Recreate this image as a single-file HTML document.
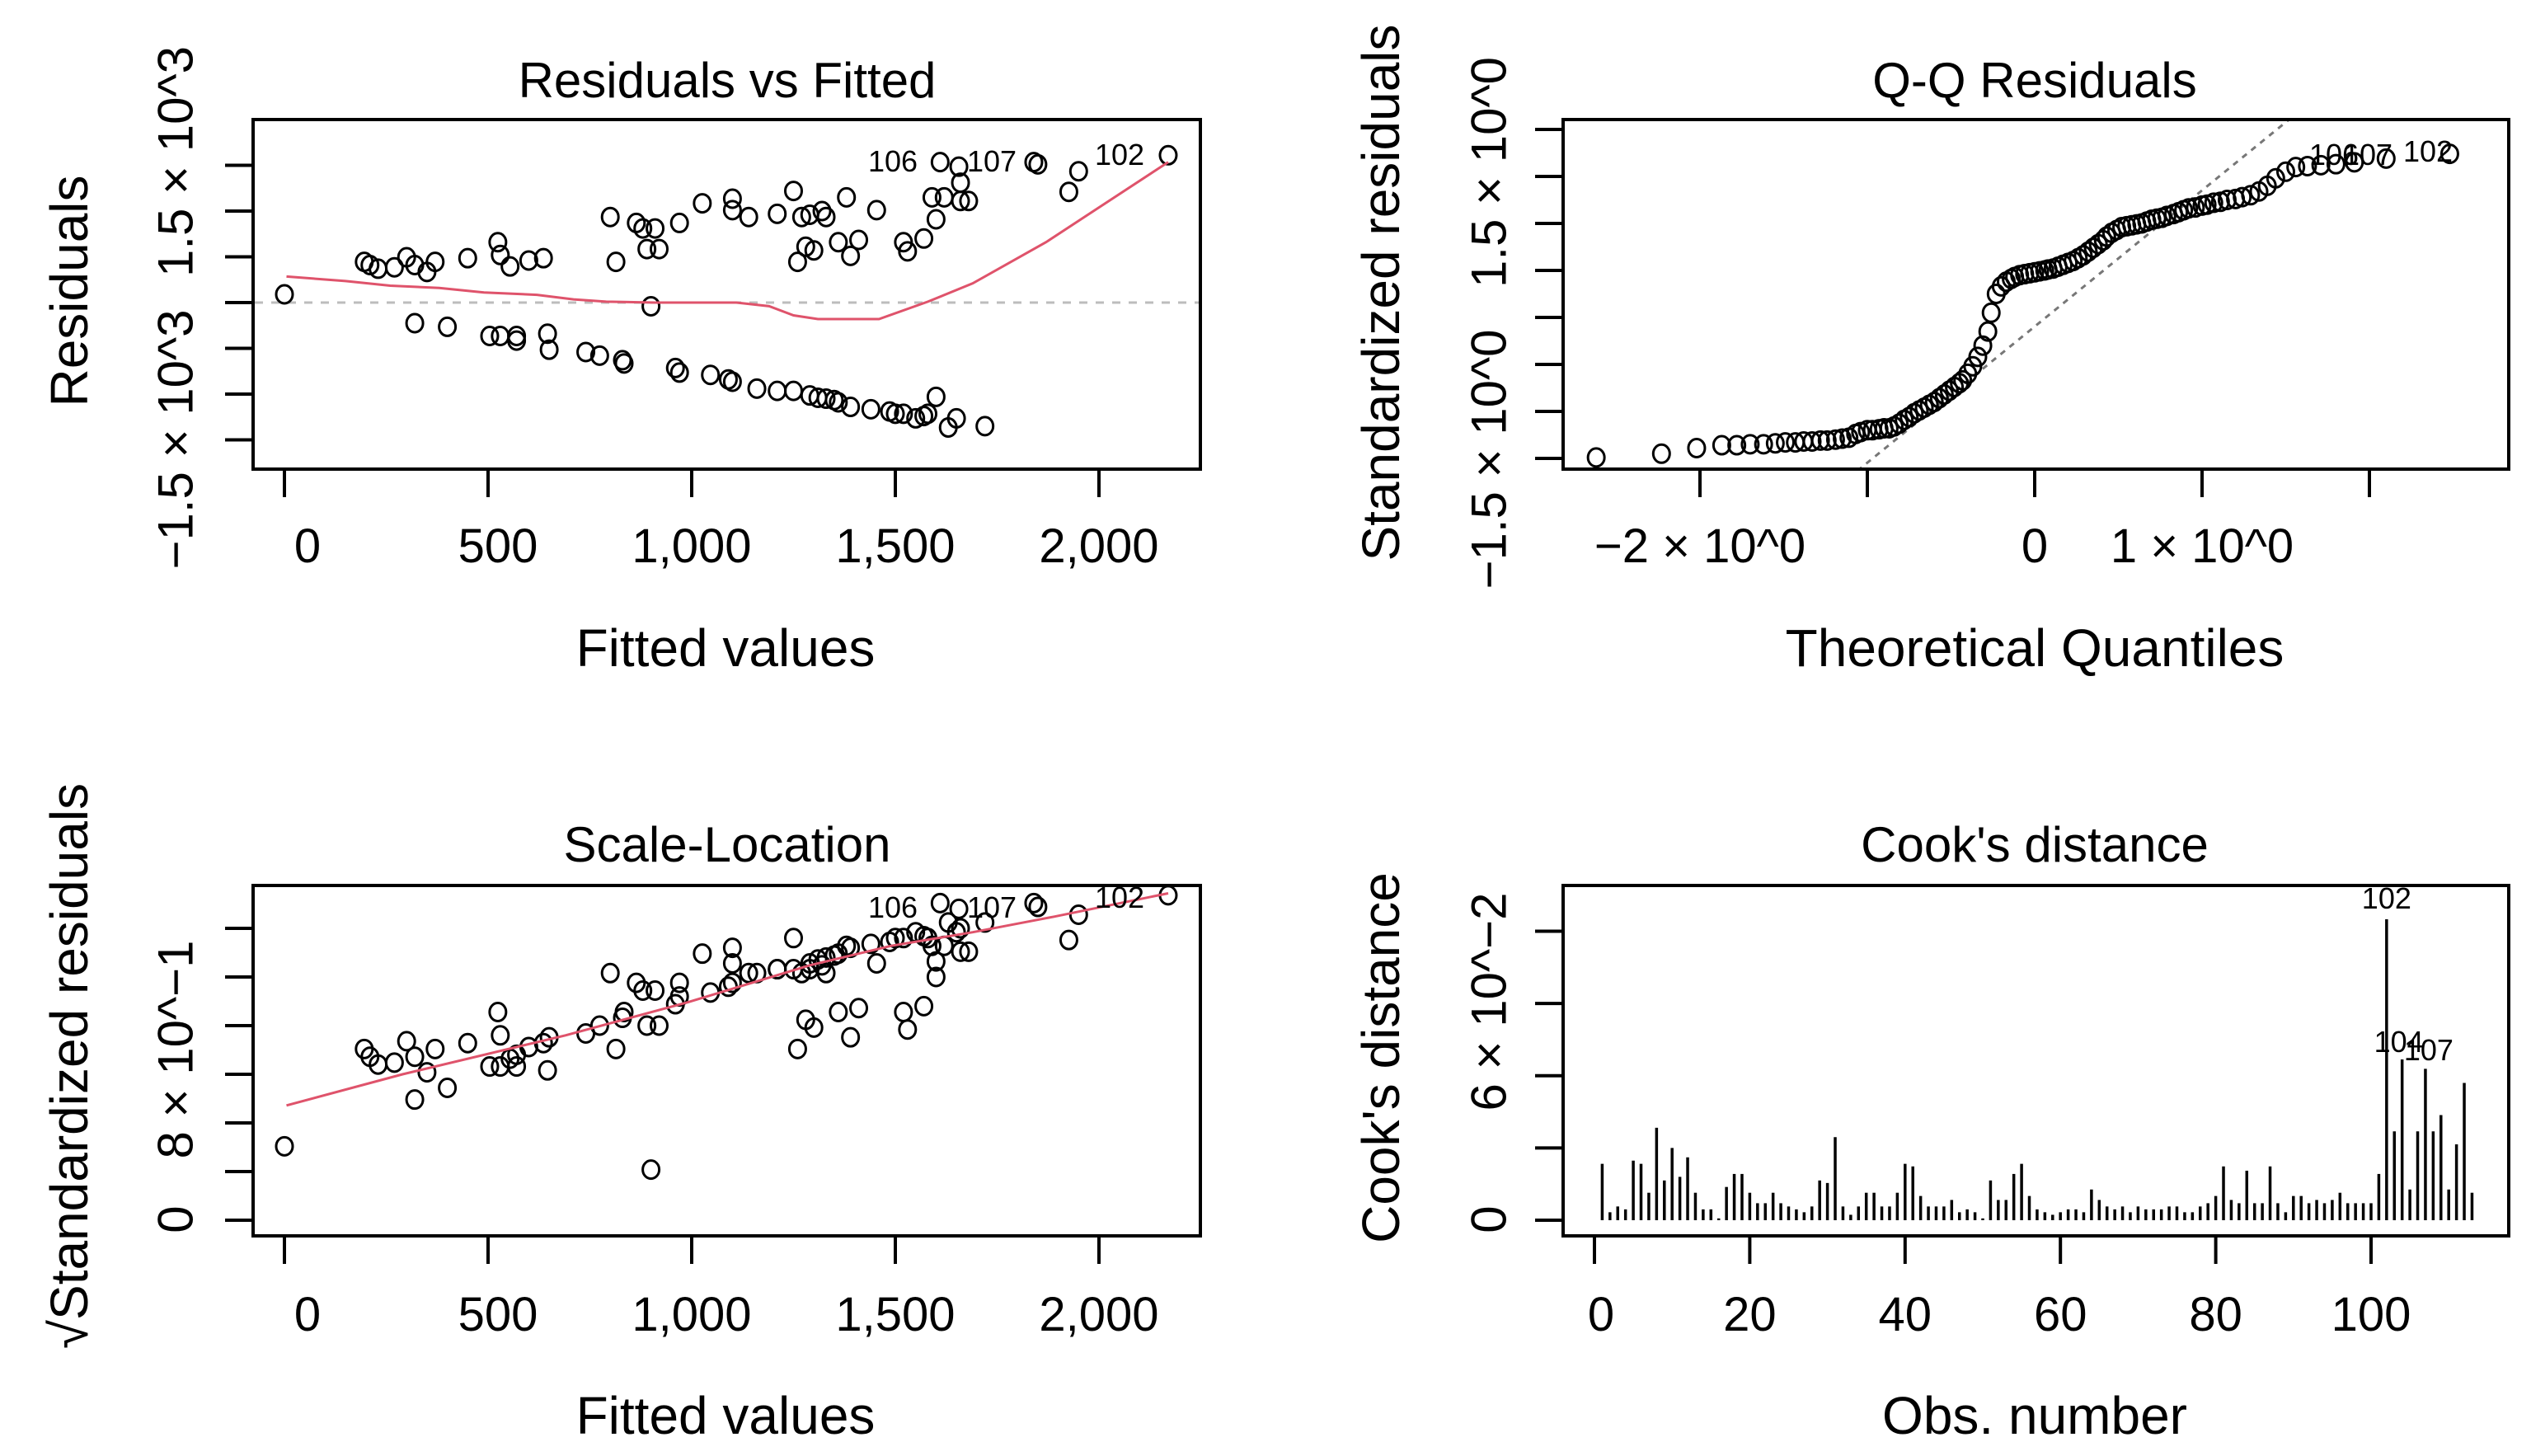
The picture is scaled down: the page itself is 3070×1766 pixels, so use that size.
<!DOCTYPE html>
<html><head><meta charset="utf-8"><style>
html,body{margin:0;padding:0;background:#fff;}
svg{display:block;font-family:"Liberation Sans",Arial,sans-serif;}
</style></head><body>
<svg id="fig" width="3070" height="1766" viewBox="0 0 3070 1766" xmlns="http://www.w3.org/2000/svg"></svg>
<script>
// ---------- Residuals vs Fitted ----------
const rvfFitted = [0,196,210,230,270,300,320,350,370,450,524,530,554,600,636,800,814,864,880,890,910,920,970,1026,1100,1100,1140,1210,1250,1260,1270,1280,1290,1300,1320,1330,1360,1380,1390,1410,1454,1520,1530,1570,1590,1600,1620,1660,1660,1680,1610,1656,1840,1850,1926,1950,2170,
 320,400,504,530,570,570,646,650,740,774,830,834,900,960,970,1046,1090,1100,1160,1210,1250,1290,1310,1330,1350,1360,1390,1440,1486,1500,1520,1550,1570,1580,1600,1630,1650,1720];
const rvfResid = [90,445,410,370,385,495,410,335,445,485,660,520,395,460,485,935,445,870,810,585,810,585,870,1085,1135,1010,935,970,1220,445,935,610,960,570,1000,935,660,1150,510,685,1010,660,560,700,1150,910,1150,1310,1110,1110,1535,1485,1535,1510,1210,1435,1610,
 -225,-265,-365,-365,-415,-365,-340,-515,-540,-580,-630,-665,-40,-715,-765,-790,-840,-865,-940,-965,-965,-1015,-1040,-1050,-1065,-1090,-1140,-1165,-1190,-1215,-1215,-1265,-1240,-1215,-1030,-1365,-1265,-1350];
const rvfSmoothX = [5,150,260,380,490,620,710,790,910,1110,1190,1250,1310,1460,1580,1690,1870,2170];
const rvfSmoothY = [285,235,185,160,110,85,35,10,0,0,-40,-140,-180,-180,10,210,660,1535];
const fittedTicks = [0,500,1000,1500,2000];
const fittedTickLabels = ["0","500","1,000","1,500","2,000"];
const residTicks = [-1500,-1000,-500,0,500,1000,1500];

// ---------- Scale-Location ----------
const slSqrtStd = [0.38,0.88,0.84,0.80,0.81,0.92,0.84,0.76,0.88,0.91,1.07,0.95,0.83,0.89,0.91,1.27,0.88,1.22,1.18,1.00,1.18,1.00,1.22,1.37,1.40,1.32,1.27,1.29,1.45,0.88,1.27,1.03,1.29,0.99,1.31,1.27,1.07,1.41,0.94,1.09,1.32,1.07,0.98,1.10,1.41,1.25,1.41,1.50,1.38,1.38,1.63,1.60,1.63,1.61,1.44,1.57,1.67,
 0.62,0.68,0.79,0.79,0.85,0.79,0.77,0.94,0.96,1.00,1.04,1.07,0.26,1.11,1.15,1.17,1.20,1.22,1.27,1.29,1.29,1.32,1.34,1.35,1.36,1.37,1.40,1.42,1.43,1.45,1.45,1.48,1.46,1.45,1.33,1.53,1.48,1.53];
const slSmoothX = [5,290,690,990,1290,1490,1690,1890,2170];
const slSmoothY = [0.59,0.75,0.95,1.12,1.31,1.41,1.48,1.56,1.68];
const slTicks = [0,0.25,0.5,0.75,1,1.25,1.5];

// ---------- Q-Q ----------
const qqTheo = [-2.62,-2.23,-2.02,-1.87,-1.78,-1.70,-1.62,-1.55,-1.49,-1.43,-1.38,-1.33,-1.28,-1.24,-1.19,-1.15,-1.11,-1.07,-1.04,-1.00,-0.97,-0.93,-0.90,-0.87,-0.84,-0.81,-0.78,-0.75,-0.72,-0.69,-0.66,-0.63,-0.60,-0.57,-0.54,-0.51,-0.48,-0.45,-0.43,-0.40,-0.37,-0.34,-0.31,-0.28,-0.26,-0.23,-0.20,-0.17,-0.14,-0.12,-0.09,-0.06,-0.03,0.00,0.03,0.06,0.08,0.11,0.14,0.17,0.20,0.23,0.26,0.29,0.32,0.35,0.38,0.41,0.43,0.46,0.49,0.52,0.55,0.58,0.61,0.64,0.67,0.70,0.73,0.76,0.79,0.83,0.86,0.89,0.92,0.96,1.00,1.03,1.07,1.11,1.15,1.20,1.24,1.29,1.34,1.39,1.44,1.50,1.56,1.63,1.71,1.80,1.91,2.10,2.48];
const qqStd = [-1.49,-1.45,-1.39,-1.36,-1.36,-1.35,-1.35,-1.34,-1.33,-1.33,-1.32,-1.32,-1.31,-1.31,-1.30,-1.29,-1.28,-1.24,-1.22,-1.20,-1.20,-1.19,-1.18,-1.18,-1.16,-1.13,-1.09,-1.06,-1.02,-0.99,-0.96,-0.93,-0.90,-0.86,-0.82,-0.78,-0.74,-0.70,-0.67,-0.60,-0.52,-0.42,-0.30,-0.15,0.05,0.25,0.33,0.38,0.41,0.43,0.45,0.46,0.47,0.48,0.49,0.50,0.51,0.52,0.54,0.56,0.58,0.60,0.63,0.66,0.70,0.74,0.78,0.82,0.86,0.90,0.93,0.96,0.97,0.98,0.99,1.00,1.02,1.04,1.05,1.06,1.08,1.10,1.12,1.14,1.16,1.17,1.19,1.20,1.22,1.23,1.25,1.26,1.28,1.30,1.34,1.40,1.48,1.55,1.60,1.61,1.62,1.63,1.65,1.69,1.74];
const qqLineQ = [-1.01,1.53];
const qqLineR = [-1.56,2.12];
const qqXTicks = [-2,-1,0,1,2];
const qqYTicks = [-1.5,-1,-0.5,0,0.5,1,1.5,2];

// ---------- Cook's distance ----------
const cooksD = [0.0156,0.0022,0.0038,0.003,0.0165,0.0156,0.0076,0.0256,0.011,0.020,0.012,0.0174,0.0076,0.003,0.003,0.0005,0.0092,0.0128,0.0128,0.0076,
 0.0047,0.0047,0.0076,0.0047,0.0038,0.003,0.0022,0.0038,0.011,0.0103,0.023,0.0038,0.0015,0.0038,0.0076,0.0076,0.0038,0.0038,0.0076,0.0156,
 0.0149,0.0067,0.0038,0.0038,0.0038,0.0056,0.0022,0.003,0.0022,0.0005,0.011,0.0056,0.0056,0.0128,0.0156,0.0067,0.003,0.0022,0.0015,0.0022,
 0.003,0.003,0.0022,0.0085,0.0056,0.0038,0.003,0.0038,0.0022,0.0038,0.003,0.003,0.003,0.0038,0.0038,0.0022,0.0022,0.0038,0.0047,0.0067,
 0.0149,0.0056,0.0047,0.0137,0.0047,0.0047,0.0149,0.0047,0.0022,0.0067,0.0067,0.0047,0.0056,0.0047,0.0056,0.0076,0.0047,0.0047,0.0047,0.0047,
 0.0128,0.0833,0.0246,0.0445,0.0085,0.0246,0.0419,0.0246,0.0291,0.0085,0.021,0.038,0.0076];
const cookXTicks = [0,20,40,60,80,100];
const cookYTicks = [0,0.02,0.04,0.06,0.08];

// ---------- axis functions ----------
const xF = v => 345 + 0.494*v;
const yR = v => 367 - 0.111*v;
const yS = v => 1480 - 236*v;
const xQ = q => 2468 + 203*q;
const yQ = r => 385 - 114*r;
const xC = i => 1934 + 9.42*i;
const yC = v => 1480 - 4382*v;

const NS = "http://www.w3.org/2000/svg";
const svg = document.getElementById('fig');
function mk(tag, attrs, parent){
  const e = document.createElementNS(NS, tag);
  for (const k in attrs) e.setAttribute(k, attrs[k]);
  (parent||svg).appendChild(e);
  return e;
}
function txt(s, x, y, size, name, opts){
  opts = opts||{};
  const t = mk('text', {x:x, y:y, 'font-size':size, 'text-anchor':opts.anchor||'middle', fill:opts.fill||'#000'}, opts.parent);
  if (opts.rot) { t.setAttribute('transform','rotate(-90 '+x+' '+y+')'); t.setAttribute('dominant-baseline','central'); }
  t.textContent = s;
  
  
  return t;
}
function panel(name){
  const g = mk('g', {});
  
  
  return g;
}
function box(g, x0, y0, x1, y1){
  const r = mk('rect', {x:x0, y:y0, width:x1-x0, height:y1-y0, fill:'none', stroke:'#000', 'stroke-width':4}, g);
  
  
}
function yTicks(g, vals, fy, xLeft){
  vals.forEach(v => {
    const l = mk('line', {x1:xLeft-34, x2:xLeft, y1:fy(v), y2:fy(v), stroke:'#000', 'stroke-width':4}, g);
    
    
  });
}
function xTicks(g, vals, fx, yTop){
  vals.forEach(v => {
    const l = mk('line', {x1:fx(v), x2:fx(v), y1:yTop+2, y2:yTop+34, stroke:'#000', 'stroke-width':4}, g);
    
    
  });
}
function points(g, xs, ys, fx, fy){
  for (let i=0;i<xs.length;i++){
    const c = mk('ellipse', {cx:fx(xs[i]), cy:fy(ys[i]), rx:10, ry:11, fill:'none', stroke:'#000', 'stroke-width':3}, g);
    
    
  }
}
function line(g, xs, ys, fx, fy, color, dash, name){
  const d = xs.map((v,i)=>(i?'L':'M')+fx(v).toFixed(1)+' '+fy(ys[i]).toFixed(1)).join(' ');
  const p = mk('path', {d:d, fill:'none', stroke:color, 'stroke-width':3}, g);
  if (dash) p.setAttribute('stroke-dasharray', dash);
  
  
}

// ===== Panel 1: Residuals vs Fitted =====
let g = panel('residuals-vs-fitted-panel');
txt('Residuals vs Fitted', 882, 118, 60, 'chart-title', {parent:g});
const z = mk('line', {x1:309, x2:1454, y1:yR(0), y2:yR(0), stroke:'#bdbdbd', 'stroke-width':3, 'stroke-dasharray':'10 10'}, g);


points(g, rvfFitted, rvfResid, xF, yR);
line(g, rvfSmoothX, rvfSmoothY, xF, yR, '#DF536B', null, 'smoother-line');
box(g, 307, 145, 1456, 569);
yTicks(g, residTicks, yR, 307);
xTicks(g, fittedTicks, xF, 569);
fittedTicks.forEach((v,i)=>txt(fittedTickLabels[i], xF(v)+(i==0?28:i==1?12:0), 682, 58, 'x-tick-label', {parent:g}));
txt('1.5 × 10^3', 213, 196, 60, 'y-tick-label', {parent:g, rot:true});
txt('−1.5 × 10^3', 213, 533, 60, 'y-tick-label', {parent:g, rot:true});
txt('Residuals', 84, 353, 64, 'y-axis-title', {parent:g, rot:true});
txt('Fitted values', 880, 808, 64, 'x-axis-title', {parent:g});
txt('106', 1083, 208, 36, 'point-label', {parent:g});
txt('107', 1203, 208, 36, 'point-label', {parent:g});
txt('102', 1358, 200, 36, 'point-label', {parent:g});

// ===== Panel 2: Q-Q Residuals =====
g = panel('qq-residuals-panel');
txt('Q-Q Residuals', 2468, 118, 60, 'chart-title', {parent:g});
const cp = mk('clipPath', {id:'qqclip'}, g);
mk('rect', {x:1896, y:145, width:1147, height:424}, cp);
const gl = mk('g', {'clip-path':'url(#qqclip)'}, g);
const slope = (qqLineR[1]-qqLineR[0])/(qqLineQ[1]-qqLineQ[0]);
line(gl, [-3.2,3.2], [qqLineR[0]+slope*(-3.2-qqLineQ[0]), qqLineR[0]+slope*(3.2-qqLineQ[0])], xQ, yQ, '#777', '7 7', 'qq-reference-line');
points(g, qqTheo, qqStd, xQ, yQ);
box(g, 1896, 145, 3043, 569);
yTicks(g, qqYTicks, yQ, 1896);
xTicks(g, qqXTicks, xQ, 569);
txt('−2 × 10^0', xQ(-2), 682, 58, 'x-tick-label', {parent:g});
txt('0', xQ(0), 682, 58, 'x-tick-label', {parent:g});
txt('1 × 10^0', xQ(1), 682, 58, 'x-tick-label', {parent:g});
txt('1.5 × 10^0', 1806, 209, 60, 'y-tick-label', {parent:g, rot:true});
txt('−1.5 × 10^0', 1806, 557, 60, 'y-tick-label', {parent:g, rot:true});
txt('Standardized residuals', 1675, 355, 64, 'y-axis-title', {parent:g, rot:true});
txt('Theoretical Quantiles', 2468, 808, 64, 'x-axis-title', {parent:g});
txt('106', 2831, 200, 36, 'point-label', {parent:g});
txt('107', 2872, 200, 36, 'point-label', {parent:g});
txt('102', 2945, 196, 36, 'point-label', {parent:g});

// ===== Panel 3: Scale-Location =====
g = panel('scale-location-panel');
txt('Scale-Location', 882, 1045, 60, 'chart-title', {parent:g});
points(g, rvfFitted, slSqrtStd, xF, yS);
line(g, slSmoothX, slSmoothY, xF, yS, '#DF536B', null, 'smoother-line');
box(g, 307, 1074, 1456, 1499);
yTicks(g, slTicks, yS, 307);
xTicks(g, fittedTicks, xF, 1499);
fittedTicks.forEach((v,i)=>txt(fittedTickLabels[i], xF(v)+(i==0?28:i==1?12:0), 1614, 58, 'x-tick-label', {parent:g}));
txt('8 × 10^−1', 213, 1273, 60, 'y-tick-label', {parent:g, rot:true});
txt('0', 213, 1479, 60, 'y-tick-label', {parent:g, rot:true});
txt('√Standardized residuals', 84, 1293, 64, 'y-axis-title', {parent:g, rot:true});
txt('Fitted values', 880, 1739, 64, 'x-axis-title', {parent:g});
txt('106', 1083, 1113, 36, 'point-label', {parent:g});
txt('107', 1203, 1113, 36, 'point-label', {parent:g});
txt('102', 1358, 1101, 36, 'point-label', {parent:g});

// ===== Panel 4: Cook's distance =====
g = panel('cooks-distance-panel');
txt("Cook's distance", 2468, 1045, 60, 'chart-title', {parent:g});
cooksD.forEach((v,i)=>{
  const l = mk('line', {x1:xC(i+1), x2:xC(i+1), y1:yC(0), y2:yC(v), stroke:'#000', 'stroke-width':3.5}, g);
  
  
});
box(g, 1896, 1074, 3043, 1499);
yTicks(g, cookYTicks, yC, 1896);
xTicks(g, cookXTicks, xC, 1499);
cookXTicks.forEach(v=>txt(String(v), xC(v)+(v==0?8:0), 1614, 58, 'x-tick-label', {parent:g}));
txt('6 × 10^−2', 1806, 1215, 60, 'y-tick-label', {parent:g, rot:true});
txt('0', 1806, 1479, 60, 'y-tick-label', {parent:g, rot:true});
txt("Cook's distance", 1675, 1283, 64, 'y-axis-title', {parent:g, rot:true});
txt('Obs. number', 2468, 1739, 64, 'x-axis-title', {parent:g});
txt('102', xC(102), 1102, 36, 'bar-label', {parent:g});
txt('104', xC(104)-4, 1276, 36, 'bar-label', {parent:g});
txt('107', xC(107)+4, 1286, 36, 'bar-label', {parent:g});
</script>
</body></html>
